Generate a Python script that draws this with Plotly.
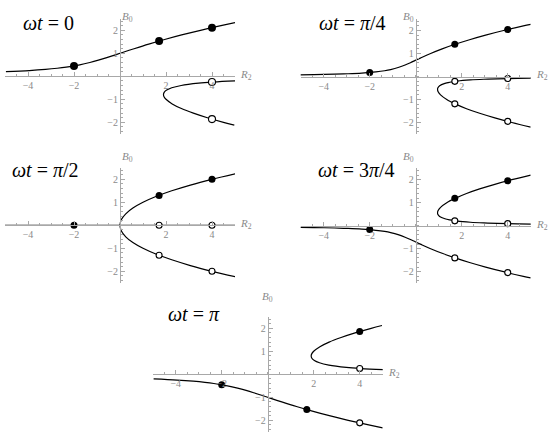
import plotly.graph_objects as go

# ---------------- data (R2, B0) ----------------
TITLES = ["<i>ωt</i> = 0", "<i>ωt</i> = <i>π</i>/4", "<i>ωt</i> = <i>π</i>/2",
          "<i>ωt</i> = 3<i>π</i>/4", "<i>ωt</i> = <i>π</i>"]

# wt = 0
WT0_A_R2 = [-4.96, -3.94, -3.24, -2.73, -2.34, -1.75, -1.31, -0.94, -0.61, -0.30, 0.00, 0.30, 0.61, 1.25, 1.94, 2.68, 3.50, 4.39, 5.00]
WT0_A_B0 = [0.20, 0.25, 0.30, 0.35, 0.40, 0.50, 0.60, 0.70, 0.80, 0.90, 1.00, 1.10, 1.20, 1.40, 1.60, 1.80, 2.00, 2.20, 2.33]
WT0_B_R2 = [5.04, 4.06, 3.42, 2.66, 2.25, 2.03, 1.92, 1.89, 1.92, 2.00, 2.27, 2.67, 3.19, 3.80, 4.50, 4.97]
WT0_B_B0 = [-0.20, -0.25, -0.30, -0.40, -0.50, -0.60, -0.70, -0.80, -0.90, -1.00, -1.20, -1.40, -1.60, -1.80, -2.00, -2.12]
WT0_FILLED_R2 = [-2, 1.7, 4]
WT0_FILLED_B0 = [0.45, 1.53, 2.11]
WT0_OPEN_R2 = [4, 4]
WT0_OPEN_B0 = [-0.25, -1.86]

# wt = pi/4
WT1_A_R2 = [-5.05, -4.42, -3.53, -2.94, -2.34, -1.73, -1.35, -1.09, -0.73, -0.46, -0.23, -0.02, 0.20, 0.65, 1.15, 1.71, 2.34, 3.04, 3.82, 4.68, 5.00]
WT1_A_B0 = [0.07, 0.08, 0.10, 0.12, 0.15, 0.20, 0.25, 0.30, 0.40, 0.50, 0.60, 0.70, 0.80, 1.00, 1.20, 1.40, 1.60, 1.80, 2.00, 2.20, 2.27]
WT1_B_R2 = [5.06, 4.43, 3.55, 2.96, 2.38, 1.81, 1.48, 1.27, 1.04, 0.96, 0.95, 0.97, 1.08, 1.35, 1.74, 2.21, 2.78, 3.44, 4.18, 5.00]
WT1_B_B0 = [-0.07, -0.08, -0.10, -0.12, -0.15, -0.20, -0.25, -0.30, -0.40, -0.50, -0.56, -0.65, -0.80, -1.00, -1.20, -1.40, -1.60, -1.80, -2.00, -2.20]
WT1_FILLED_R2 = [-2, 1.7, 4]
WT1_FILLED_B0 = [0.17, 1.40, 2.04]
WT1_OPEN_R2 = [1.7, 1.7, 4, 4]
WT1_OPEN_B0 = [-0.21, -1.19, -0.09, -1.95]

# wt = pi/2
WT2_A_R2 = [5.02, 4.00, 3.06, 2.25, 1.56, 1.00, 0.56, 0.25, 0.06, 0.00, 0.06, 0.25, 0.56, 1.00, 1.56, 2.25, 3.06, 4.00, 5.02]
WT2_A_B0 = [-2.24, -2.00, -1.75, -1.50, -1.25, -1.00, -0.75, -0.50, -0.25, 0.00, 0.25, 0.50, 0.75, 1.00, 1.25, 1.50, 1.75, 2.00, 2.24]
WT2_B_R2 = [-5, 5]
WT2_B_B0 = [0, 0]
WT2_FILLED_R2 = [-2, 1.7, 4]
WT2_FILLED_B0 = [0.0, 1.30, 2.00]
WT2_OPEN_R2 = [1.7, 1.7, 4, 4]
WT2_OPEN_B0 = [0.0, -1.30, 0.0, -2.00]

# wt = 3pi/4
WT3_A_R2 = [-5.05, -4.42, -3.53, -2.94, -2.34, -1.73, -1.35, -1.09, -0.73, -0.46, -0.23, -0.02, 0.20, 0.65, 1.15, 1.71, 2.34, 3.04, 3.82, 4.68, 5.00]
WT3_A_B0 = [-0.07, -0.08, -0.10, -0.12, -0.15, -0.20, -0.25, -0.30, -0.40, -0.50, -0.60, -0.70, -0.80, -1.00, -1.20, -1.40, -1.60, -1.80, -2.00, -2.20, -2.27]
WT3_B_R2 = [5.06, 4.43, 3.55, 2.96, 2.38, 1.81, 1.48, 1.27, 1.04, 0.96, 0.95, 0.97, 1.08, 1.35, 1.74, 2.21, 2.78, 3.44, 4.18, 5.00]
WT3_B_B0 = [0.07, 0.08, 0.10, 0.12, 0.15, 0.20, 0.25, 0.30, 0.40, 0.50, 0.56, 0.65, 0.80, 1.00, 1.20, 1.40, 1.60, 1.80, 2.00, 2.20]
WT3_FILLED_R2 = [-2, 1.7, 4]
WT3_FILLED_B0 = [-0.17, 1.19, 1.95]
WT3_OPEN_R2 = [1.7, 1.7, 4, 4]
WT3_OPEN_B0 = [0.21, -1.40, 0.09, -2.04]

# wt = pi
WT4_A_R2 = [-4.96, -3.94, -3.24, -2.73, -2.34, -1.75, -1.31, -0.94, -0.61, -0.30, 0.00, 0.30, 0.61, 1.25, 1.94, 2.68, 3.50, 4.39, 5.00]
WT4_A_B0 = [-0.20, -0.25, -0.30, -0.35, -0.40, -0.50, -0.60, -0.70, -0.80, -0.90, -1.00, -1.10, -1.20, -1.40, -1.60, -1.80, -2.00, -2.20, -2.33]
WT4_B_R2 = [5.04, 4.06, 3.42, 2.66, 2.25, 2.03, 1.92, 1.89, 1.92, 2.00, 2.27, 2.67, 3.19, 3.80, 4.50, 4.97]
WT4_B_B0 = [0.20, 0.25, 0.30, 0.40, 0.50, 0.60, 0.70, 0.80, 0.90, 1.00, 1.20, 1.40, 1.60, 1.80, 2.00, 2.12]
WT4_FILLED_R2 = [-2, 1.7, 4]
WT4_FILLED_B0 = [-0.45, -1.53, 1.86]
WT4_OPEN_R2 = [4, 4]
WT4_OPEN_B0 = [0.25, -2.11]

X_TICKS = [-4, -2, 2, 4]
X_TICKTEXT = ["−4", "−2", "2", "4"]
Y_TICKS = [-2, -1, 1, 2]
Y_TICKTEXT = ["−2", "−1", "1", "2"]

PANELS = [
    (WT0_A_R2, WT0_A_B0, WT0_B_R2, WT0_B_B0, WT0_FILLED_R2, WT0_FILLED_B0, WT0_OPEN_R2, WT0_OPEN_B0),
    (WT1_A_R2, WT1_A_B0, WT1_B_R2, WT1_B_B0, WT1_FILLED_R2, WT1_FILLED_B0, WT1_OPEN_R2, WT1_OPEN_B0),
    (WT2_A_R2, WT2_A_B0, WT2_B_R2, WT2_B_B0, WT2_FILLED_R2, WT2_FILLED_B0, WT2_OPEN_R2, WT2_OPEN_B0),
    (WT3_A_R2, WT3_A_B0, WT3_B_R2, WT3_B_B0, WT3_FILLED_R2, WT3_FILLED_B0, WT3_OPEN_R2, WT3_OPEN_B0),
    (WT4_A_R2, WT4_A_B0, WT4_B_R2, WT4_B_B0, WT4_FILLED_R2, WT4_FILLED_B0, WT4_OPEN_R2, WT4_OPEN_B0),
]

# ---------------- layout (pixel geometry) ----------------
W, H = 550, 435
XW = 230.0   # pixel width of R2 range [-5, 5]
YH = 115.0   # pixel height of B0 range [-2.5, 2.5]
ORIGINS = [(120.0, 76.3), (415.7, 76.5), (120.0, 225.3), (415.7, 225.7), (267.7, 374.3)]
TITLE_POS = [(21, 23), (317, 23), (10, 170), (316, 170), (166, 314)]
MARKER_SIZE = [8, 7, 7, 7, 7]

fig = go.Figure()
layout = dict(width=W, height=H, margin=dict(l=0, r=0, t=0, b=0),
              paper_bgcolor="white", plot_bgcolor="rgba(0,0,0,0)", showlegend=False)
annotations = []
AXC = "#a8a8a8"
TXC = "#8a8a8a"

for i, (p, (ox, oy)) in enumerate(zip(PANELS, ORIGINS)):
    k = "" if i == 0 else str(i + 1)
    xa, ya = "x" + k, "y" + k
    a_r2, a_b0, b_r2, b_b0, f_r2, f_b0, o_r2, o_b0 = p
    for xs, ys in ((a_r2, a_b0), (b_r2, b_b0)):
        fig.add_trace(go.Scatter(x=xs, y=ys, mode="lines", xaxis=xa, yaxis=ya,
                                 line=dict(color="black", width=1.2, shape="spline", smoothing=1.0),
                                 hoverinfo="skip"))
    fig.add_trace(go.Scatter(x=o_r2, y=o_b0, mode="markers", xaxis=xa, yaxis=ya,
                             marker=dict(size=MARKER_SIZE[i] - 1, color="white",
                                         line=dict(color="black", width=1.1)),
                             cliponaxis=False))
    fig.add_trace(go.Scatter(x=f_r2, y=f_b0, mode="markers", xaxis=xa, yaxis=ya,
                             marker=dict(size=MARKER_SIZE[i], color="black"),
                             cliponaxis=False))

    x0, x1 = (ox - XW / 2) / W, (ox + XW / 2) / W
    y0, y1 = 1 - (oy + YH / 2) / H, 1 - (oy - YH / 2) / H
    common = dict(showgrid=False, zeroline=False, showline=True, linecolor=AXC, linewidth=1,
                  ticks="inside", ticklen=4, tickwidth=1, tickcolor=AXC,
                  tickfont=dict(family="Liberation Serif", size=10, color=TXC),
                  anchor="free", fixedrange=True)
    layout["xaxis" + k] = dict(common, domain=[x0, x1], range=[-5, 5], position=1 - oy / H,
                               tickmode="array", tickvals=X_TICKS, ticktext=X_TICKTEXT,
                               minor=dict(tickmode="linear", tick0=0, dtick=0.5, ticks="inside",
                                          ticklen=2, tickcolor=AXC))
    layout["yaxis" + k] = dict(common, domain=[y0, y1], range=[-2.5, 2.5], position=ox / W,
                               tickmode="array", tickvals=Y_TICKS, ticktext=Y_TICKTEXT,
                               minor=dict(tickmode="linear", tick0=0, dtick=0.2, ticks="inside",
                                          ticklen=2, tickcolor=AXC))
    # axis labels
    annotations.append(dict(x=(ox + XW / 2 + 4) / W, y=1 - (oy - 1) / H, xref="paper", yref="paper",
                            xanchor="left", yanchor="middle", borderpad=0,
                            text="<i>R</i><sub>2</sub>", showarrow=False,
                            font=dict(family="Liberation Serif", size=11, color=TXC)))
    annotations.append(dict(x=ox / W, y=1 - (oy - YH / 2 - 11) / H, xref="paper", yref="paper",
                            text="<i>B</i><sub>0</sub>", showarrow=False,
                            font=dict(family="Liberation Serif", size=11, color=TXC)))
    tx, ty = TITLE_POS[i]
    annotations.append(dict(x=tx / W, y=1 - ty / H, xref="paper", yref="paper",
                            xanchor="left", yanchor="middle", text=TITLES[i], showarrow=False,
                            font=dict(family="Liberation Serif", size=20, color="black")))

layout["annotations"] = annotations
fig.update_layout(**layout)
fig.write_html("out.html", config={"displayModeBar": False},
               post_script="document.body.style.margin='0px';")
